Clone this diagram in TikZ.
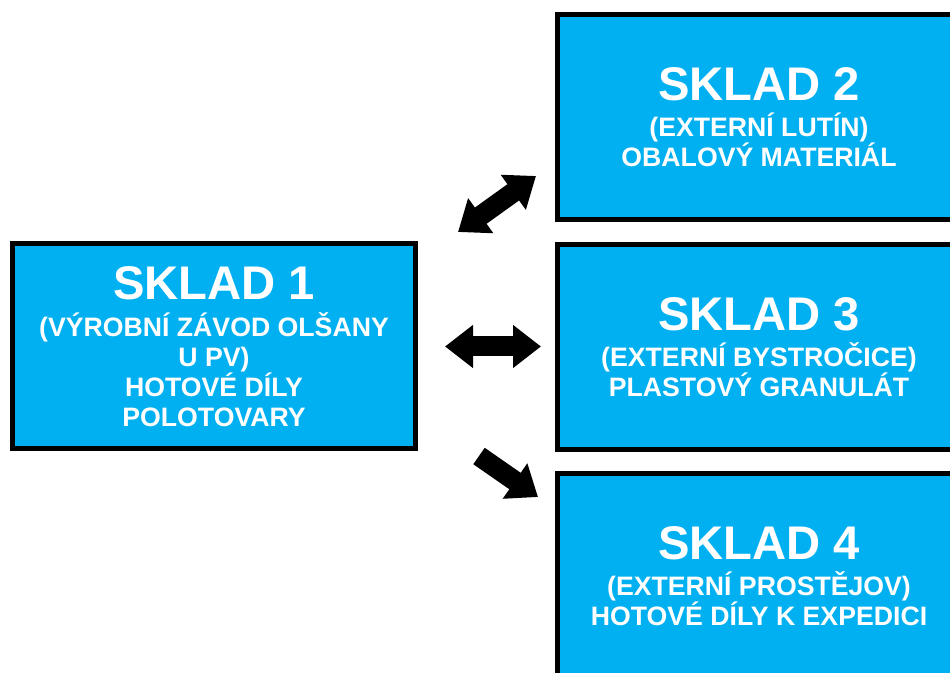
\documentclass[tikz,border=0pt]{standalone}
\usepackage{fontspec}
\setmainfont{Liberation Sans}
\usetikzlibrary{arrows.meta}
\definecolor{sklad_blue}{HTML}{00B0F0}
\newcommand{\skladname}[1]{{\fontsize{35.4}{38}\selectfont #1}}

\begin{document}
\begin{tikzpicture}[x=0.75pt,y=-0.75pt,
    sklad/.style={draw=black, line width=3.75pt, fill=sklad_blue, text=white,
      font=\bfseries\fontsize{20}{22.5}\selectfont, align=center,
      minimum width=302.25pt, minimum height=153.75pt, inner sep=0pt},
    bigtip/.tip={Triangle[length=21pt,width=31pt]},
    blockarrow/.style={line width=15pt, black}]
        \useasboundingbox (0,0) rectangle (950,673);
        \clip (0,0) rectangle (950,673);
        % Sklady
        \node[sklad] (s1) at (214,346.5) {\skladname{SKLAD 1}\\[5pt] (VÝROBNÍ ZÁVOD OLŠANY\\ U PV)\\ HOTOVÉ DÍLY\\ POLOTOVARY};
        \node[sklad] (s2) at (759,117) {\skladname{SKLAD 2}\\[5pt] (EXTERNÍ LUTÍN)\\ OBALOVÝ MATERIÁL};
        \node[sklad] (s3) at (759,347) {\skladname{SKLAD 3}\\[5pt] (EXTERNÍ BYSTROČICE)\\ PLASTOVÝ GRANULÁT};
        \node[sklad] (s4) at (759,576) {\skladname{SKLAD 4}\\[5pt] (EXTERNÍ PROSTĚJOV)\\ HOTOVÉ DÍLY K EXPEDICI};
        % Šipky
        \coordinate (p12) at (458,232);
        \coordinate (q12) at (536,176);
        \coordinate (p14) at (479,456);
        \coordinate (q14) at (538,497);
        \draw[blockarrow, bigtip-bigtip] (p12) -- (q12);
        \draw[blockarrow, bigtip-bigtip, shorten <=20.25pt, shorten >=10.5pt] (s1.east) -- (s1.east -| s3.west);
        \draw[blockarrow, -bigtip] (p14) -- (q14);
    \end{tikzpicture}
\end{document}
